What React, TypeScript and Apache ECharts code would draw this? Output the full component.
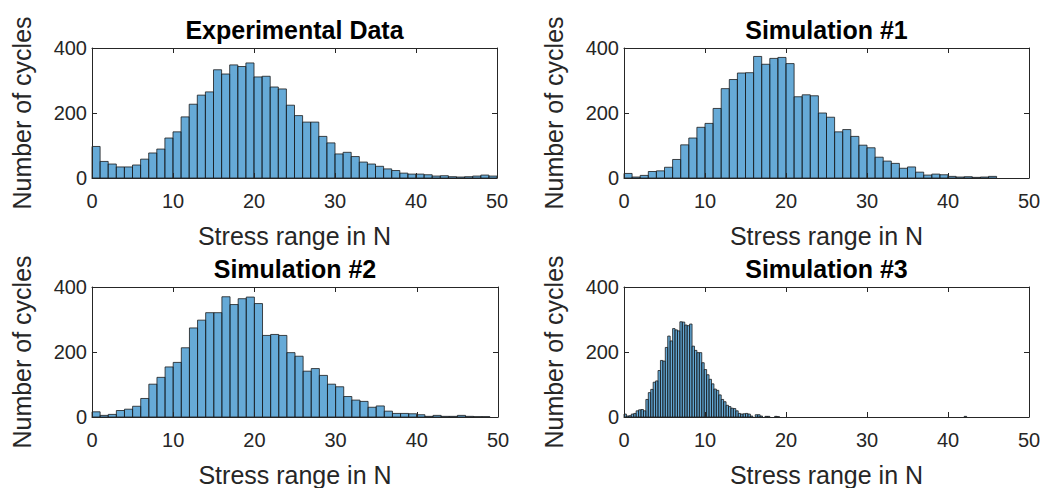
import React, { useEffect, useRef } from "react";
import * as echarts from "echarts";

// ---- data ----
const panelTitles = ["Experimental Data", "Simulation #1", "Simulation #2", "Simulation #3"];
const xAxisName = "Stress range in N";
const yAxisName = "Number of cycles";
const xTickValues = [0, 10, 20, 30, 40, 50];
const yTickValues = [0, 200, 400];

// bin width 1 N, bins start at 0
const expCounts = [97, 51, 43, 34, 34, 40, 58, 77, 89, 123, 142, 188, 227, 255, 265, 333, 320, 348, 343, 354, 311, 313, 280, 274, 224, 192, 172, 172, 128, 108, 74, 79, 66, 49, 43, 36, 28, 23, 15, 12, 12, 10, 6, 7, 4, 3, 4, 6, 9, 6];
const sim1Counts = [14, 3, 8, 20, 22, 33, 57, 102, 123, 156, 168, 214, 275, 303, 323, 324, 374, 350, 368, 371, 352, 250, 256, 253, 200, 187, 142, 149, 128, 101, 93, 64, 52, 45, 30, 34, 18, 9, 12, 10, 5, 3, 4, 2, 3, 5, 0, 0, 0, 0];
const sim2Counts = [16, 5, 8, 20, 24, 33, 57, 101, 122, 154, 168, 213, 274, 298, 321, 321, 370, 346, 364, 369, 349, 251, 254, 251, 198, 187, 141, 149, 128, 101, 93, 63, 52, 48, 30, 34, 18, 11, 11, 10, 7, 2, 5, 2, 2, 5, 2, 1, 1, 0];
const mainBinWidth = 1;

// bin width 0.3 N, bins start at 0
const sim3Counts = [9, 3, 4, 9, 11, 19, 22, 23, 19, 54, 75, 85, 107, 111, 143, 174, 172, 214, 249, 234, 272, 268, 265, 293, 292, 283, 281, 286, 218, 205, 198, 198, 167, 146, 130, 116, 102, 86, 82, 68, 54, 47, 36, 32, 27, 26, 19, 11, 9, 10, 11, 9, 3, 0, 7, 7, 3, 0, 2, 2, 0, 0, 2, 1];
const sim3BinWidth = 0.3;
const sim3TailStarts = [42.0];
const sim3TailCounts = [2];

const FONT = "'Liberation Sans', Arial, Helvetica, sans-serif";
const INK = "#262626";

function toBins(counts: number[], width: number, start = 0): number[][] {
  const out: number[][] = [];
  counts.forEach((c, i) => {
    if (c > 0) {
      const x0 = +(start + i * width).toFixed(4);
      out.push([x0, +(x0 + width).toFixed(4), c]);
    }
  });
  return out;
}

export default function App() {
  const ref = useRef<HTMLDivElement>(null);

  useEffect(() => {
    if (!ref.current) return;
    const chart = echarts.init(ref.current, undefined, { renderer: "svg" });

    const sim3Bins = toBins(sim3Counts, sim3BinWidth);
    sim3TailStarts.forEach((s, i) => {
      sim3Bins.push([s, +(s + sim3BinWidth).toFixed(4), sim3TailCounts[i]]);
    });
    const panelData = [
      toBins(expCounts, mainBinWidth),
      toBins(sim1Counts, mainBinWidth),
      toBins(sim2Counts, mainBinWidth),
      sim3Bins,
    ];

    const grids = [
      { left: 92, top: 48, width: 405, height: 130 },
      { left: 624, top: 48, width: 405, height: 130 },
      { left: 92, top: 287, width: 406, height: 130 },
      { left: 624, top: 287, width: 405, height: 130 },
    ];

    const xMin = xTickValues[0];
    const xMax = xTickValues[xTickValues.length - 1];
    const xStep = xTickValues[1] - xTickValues[0];
    const yMin = yTickValues[0];
    const yMax = yTickValues[yTickValues.length - 1];
    const yStep = yTickValues[1] - yTickValues[0];

    const xAxes: any[] = [];
    const yAxes: any[] = [];
    const series: any[] = [];
    const graphics: any[] = [];

    grids.forEach((g, i) => {
      xAxes.push({
        type: "value",
        gridIndex: i,
        min: xMin,
        max: xMax,
        interval: xStep,
        position: "bottom",
        z: 10,
        axisLine: { show: true, onZero: false, lineStyle: { color: INK, width: 1 } },
        axisTick: { show: true, inside: true, length: 5, lineStyle: { color: INK, width: 1 } },
        axisLabel: { color: INK, fontSize: 20, fontFamily: FONT, margin: 13 },
        splitLine: { show: false },
        name: xAxisName,
        nameLocation: "middle",
        nameGap: 45,
        nameTextStyle: { fontSize: 25, color: INK, fontFamily: FONT },
      });
      xAxes.push({
        type: "value",
        gridIndex: i,
        min: xMin,
        max: xMax,
        interval: xStep,
        position: "top",
        z: 10,
        axisLine: { show: true, onZero: false, lineStyle: { color: INK, width: 1 } },
        axisTick: { show: true, inside: true, length: 5, lineStyle: { color: INK, width: 1 } },
        axisLabel: { show: false },
        splitLine: { show: false },
      });
      yAxes.push({
        type: "value",
        gridIndex: i,
        min: yMin,
        max: yMax,
        interval: yStep,
        position: "left",
        z: 10,
        axisLine: { show: true, onZero: false, lineStyle: { color: INK, width: 1 } },
        axisTick: { show: true, inside: true, length: 5, lineStyle: { color: INK, width: 1 } },
        axisLabel: { color: INK, fontSize: 20, fontFamily: FONT, margin: 5 },
        splitLine: { show: false },
        name: yAxisName,
        nameLocation: "middle",
        nameGap: 58,
        nameTextStyle: { fontSize: 25, color: INK, fontFamily: FONT },
      });
      yAxes.push({
        type: "value",
        gridIndex: i,
        min: yMin,
        max: yMax,
        interval: yStep,
        position: "right",
        z: 10,
        axisLine: { show: true, onZero: false, lineStyle: { color: INK, width: 1 } },
        axisTick: { show: true, inside: true, length: 5, lineStyle: { color: INK, width: 1 } },
        axisLabel: { show: false },
        splitLine: { show: false },
      });

      series.push({
        type: "custom",
        xAxisIndex: 2 * i,
        yAxisIndex: 2 * i,
        data: panelData[i],
        encode: { x: [0, 1], y: 2 },
        renderItem: (params: any, api: any) => {
          const x0 = api.value(0);
          const x1 = api.value(1);
          const v = api.value(2);
          const p0 = api.coord([x0, v]);
          const p1 = api.coord([x1, 0]);
          return {
            type: "rect",
            shape: { x: p0[0], y: p0[1], width: p1[0] - p0[0], height: p1[1] - p0[1] },
            style: { fill: "rgba(0,114,189,0.6)", stroke: "#1a1a1a", lineWidth: 0.8 },
          };
        },
      });

      graphics.push({
        type: "text",
        x: g.left + g.width / 2,
        y: g.top - 31,
        z: 20,
        style: {
          text: panelTitles[i],
          fontSize: 25,
          fontWeight: "bold",
          fontFamily: FONT,
          fill: "#000",
          align: "center",
          verticalAlign: "top",
        },
      });
    });

    chart.setOption({
      animation: false,
      backgroundColor: "#fff",
      grid: grids.map((g) => ({ ...g, containLabel: false })),
      xAxis: xAxes,
      yAxis: yAxes,
      series,
      graphic: graphics,
    });

    return () => chart.dispose();
  }, []);

  return (
    <div
      ref={ref}
      style={{ position: "fixed", left: 0, top: 0, width: 1047, height: 488, background: "#fff" }}
    />
  );
}
